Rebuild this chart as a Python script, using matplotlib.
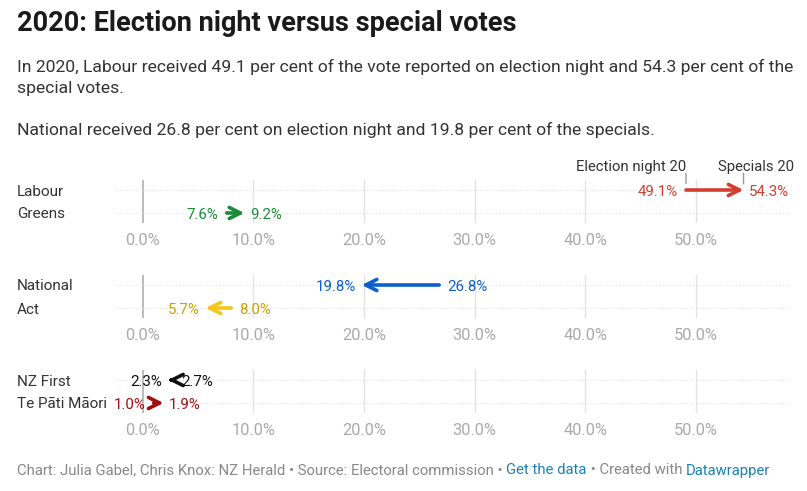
import matplotlib.pyplot as plt

# data: (party, election night %, specials %)
panels = [
    ["Labour", "Greens"],
    ["National", "Act"],
    ["NZ First", "Te Pāti Māori"],
]
election = {"Labour": 49.1, "Greens": 7.6, "National": 26.8, "Act": 8.0,
            "NZ First": 2.7, "Te Pāti Māori": 1.0}
specials = {"Labour": 54.3, "Greens": 9.2, "National": 19.8, "Act": 5.7,
            "NZ First": 2.3, "Te Pāti Māori": 1.9}
colors = {"Labour": "#d13f30", "Greens": "#1b8a3a", "National": "#0b5fcc",
          "Act": "#f5c518", "NZ First": "#111111", "Te Pāti Māori": "#a11010"}
text_colors = {"Act": "#c9a200"}
xticks = [0, 10, 20, 30, 40, 50]

plt.rcParams['font.family'] = ['Roboto', 'DejaVu Sans']
W, H = 807, 491
fig = plt.figure(figsize=(W / 100, H / 100), dpi=100)


def ftext(x, y, s, **kw):
    # small downward nudge so Roboto centres line up with the reference
    return fig.text(x / W, 1 - (y + 1.5) / H, s, **kw)


ftext(17, 22, "2020: Election night versus special votes", fontsize=19.5,
      fontweight='bold', color='#1a1a1a', va='center')
ftext(17, 65, "In 2020, Labour received 49.1 per cent of the vote reported on election night and 54.3 per cent of the",
      fontsize=12.6, color='#333333', va='center')
ftext(17, 87, "special votes.", fontsize=12.6, color='#333333', va='center')
ftext(17, 128, "National received 26.8 per cent on election night and 19.8 per cent of the specials.",
      fontsize=12.6, color='#333333', va='center')

x0, x1 = 116, 790
xmin, xmax = -2.4, 58.5
row_y = [190, 285, 380]

for p, parties in enumerate(panels):
    top = row_y[p] - 10
    bottom = row_y[p] + 23 + 10
    ax = fig.add_axes([x0 / W, 1 - bottom / H, (x1 - x0) / W, (bottom - top) / H])
    ax.set_xlim(xmin, xmax)
    ax.set_ylim(1 + 10 / 23, -10 / 23)
    for s in ax.spines.values():
        s.set_visible(False)
    ax.set_yticks([])
    ax.set_xticks(xticks)
    ax.set_xticklabels([f"{t:.1f}%" for t in xticks])
    ax.tick_params(axis='x', length=0, pad=7, labelsize=11.8, labelcolor='#aaaaaa')
    for t in xticks:
        ax.axvline(t, color='#bbbbbb' if t == 0 else '#e2e2e2',
                   lw=1.4 if t == 0 else 1, zorder=0)
    for i, party in enumerate(parties):
        ax.axhline(i, color='#dddddd', lw=0.8, ls=(0, (1, 2)), zorder=0)
        ftext(17, row_y[p] + 23 * i, party, fontsize=11, color='#333333', va='center')
        e, s = election[party], specials[party]
        c = colors[party]
        tc = text_colors.get(party, c)
        ax.annotate('', xy=(s, i), xytext=(e, i),
                    arrowprops=dict(arrowstyle='->', lw=2.6, color=c,
                                    mutation_scale=20, shrinkA=0, shrinkB=0))
        sign = 1 if s > e else -1
        ax.annotate(f"{e:.1f}%", (e, i), xytext=(-6 * sign, -1.1),
                    textcoords='offset points', ha='right' if sign > 0 else 'left',
                    va='center', fontsize=10.8, color=tc)
        ax.annotate(f"{s:.1f}%", (s, i), xytext=(4 * sign, -1.1),
                    textcoords='offset points', ha='left' if sign > 0 else 'right',
                    va='center', fontsize=10.8, color=tc)
        if party == "Labour":
            ax.annotate('', xy=(e, -0.15), xytext=(e, -0.85),
                        arrowprops=dict(arrowstyle='-', color='#999999', lw=1))
            ax.annotate('', xy=(s, -0.15), xytext=(s, -0.85),
                        arrowprops=dict(arrowstyle='-', color='#999999', lw=1),
                        annotation_clip=False)

ftext(686, 165, "Election night 20", fontsize=10.7, color='#333333', ha='right', va='center')
ftext(718, 165, "Specials 20", fontsize=10.7, color='#333333', ha='left', va='center')

# footer with coloured link parts, all on one baseline
pieces = [("Chart: Julia Gabel, Chris Knox: NZ Herald • Source: Electoral commission • ", '#888888'),
          ("Get the data", '#1b82b5'),
          (" • Created with ", '#888888'),
          ("Datawrapper", '#1b82b5')]
renderer = fig.canvas.get_renderer()
xpos = 17
for txt, col in pieces:
    t = ftext(xpos, 473, txt, fontsize=10.7, color=col, va='baseline')
    bb = t.get_window_extent(renderer=renderer)
    xpos += bb.width

fig.savefig('out.png', dpi=100)
